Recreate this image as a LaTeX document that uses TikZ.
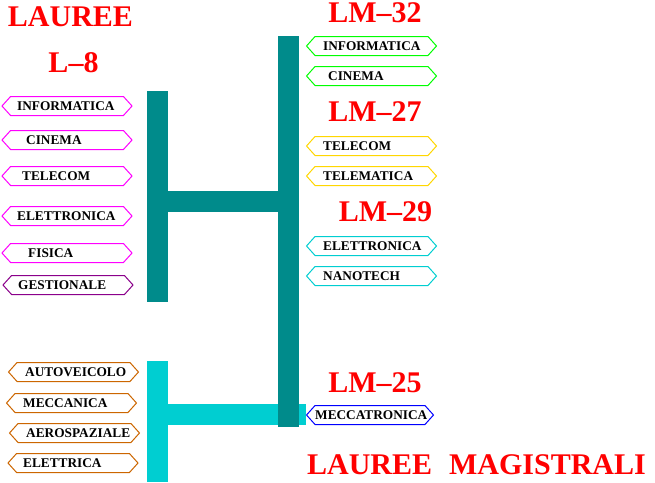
\documentclass[tikz,border=0pt]{standalone}
\usepackage{fontspec}
\setmainfont{Liberation Serif}
\usetikzlibrary{positioning,shapes.symbols}
\definecolor{barteal}{RGB}{0,139,139}
\definecolor{barcyan}{RGB}{0,206,209}
\definecolor{signmagenta}{RGB}{255,0,255}
\definecolor{signgreen}{RGB}{0,255,0}
\definecolor{signblue}{RGB}{0,0,255}
\definecolor{signorange}{RGB}{204,102,0}
\definecolor{signpurple}{RGB}{139,0,139}
\definecolor{signgold}{RGB}{255,215,0}
\definecolor{titlered}{RGB}{255,0,0}
\tikzset{
  sign/.style={signal, signal to=west and east, signal pointer angle=96,
    draw=#1, fill=white, line width=1pt, minimum width=130pt,
    minimum height=19pt, inner sep=0pt},
  lbl/.style={anchor=west, inner sep=0pt, font=\fontsize{13.3}{13}\selectfont\bfseries},
  title/.style={anchor=base, inner sep=0pt, text=titlered, font=\fontsize{30}{30}\selectfont\bfseries}
}

\begin{document}
\begin{tikzpicture}[x=1pt, y=-1pt]
  \useasboundingbox (0,0) rectangle (655,482);
  % Bars
  \fill[barcyan] (147,361) rectangle (168,482);
  \fill[barcyan] (168,404) rectangle (306,425);
  \fill[barteal] (147,91) rectangle (168,302);
  \fill[barteal] (168,191) rectangle (278,212);
  \fill[barteal] (278,36) rectangle (299,427);
  % Titles
  \node[title] (lauree) at (70.5,26) {LAUREE};
  \node[title] (l8) at (73.5,72) {L–8};
  \node[title] (lm32) at (375,22.5) {LM–32};
  \node[title] (lm27) at (375,121) {LM–27};
  \node[title] (lm29) at (385.5,221) {LM–29};
  \node[title] (lm25) at (375,392) {LM–25};
  \node[title] (magistrali) at (476.5,474) {LAUREE\hspace{17pt}MAGISTRALI};
  % Lauree
  \foreach \t/\bx/\y/\c/\s [count=\i] in {
      INFORMATICA/67/106/signmagenta/17, CINEMA/67/140/signmagenta/26,
      TELECOM/67/176/signmagenta/22, ELETTRONICA/67/216/signmagenta/17,
      FISICA/67/253/signmagenta/28, GESTIONALE/68/285/signpurple/18,
      AUTOVEICOLO/73.5/372/signorange/25, MECCANICA/71.5/403/signorange/23,
      AEROSPAZIALE/74.5/433/signorange/26, ELETTRICA/73/463/signorange/23} {
    \node[sign=\c] (b\i) at (\bx,\y) {};
    \node[lbl] (t\i) at (\s,\y) {\t};
  }
  % Lauree magistrali
  \foreach \t/\y/\c/\s [count=\i] in {
      INFORMATICA/46/signgreen/323, CINEMA/76/signgreen/328,
      TELECOM/146/signgold/323, TELEMATICA/176/signgold/323,
      ELETTRONICA/246/barcyan/323, NANOTECH/276/barcyan/323} {
    \node[sign=\c] (m\i) at (371.5,\y) {};
    \node[lbl] (u\i) at (\s,\y) {\t};
  }
  \node[sign=signblue, minimum width=127pt] (m7) at (370,415) {};
  \node[lbl] (u7) at (315,415) {MECCATRONICA};
\end{tikzpicture}
\end{document}
